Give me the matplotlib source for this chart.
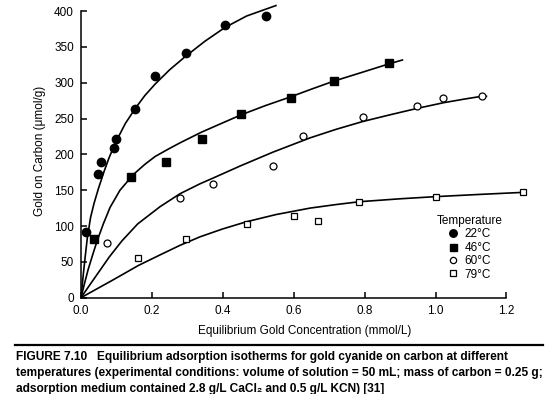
import matplotlib
matplotlib.use('Agg')
import matplotlib.pyplot as plt
from matplotlib.lines import Line2D

plt.rcParams['font.family'] = ['Liberation Sans', 'DejaVu Sans']

# measured points
x22 = [0.014, 0.047, 0.056, 0.094, 0.100, 0.153, 0.209, 0.295, 0.407, 0.521]
y22 = [91, 173, 189, 209, 222, 263, 309, 342, 380, 393]
x46 = [0.037, 0.140, 0.241, 0.340, 0.451, 0.591, 0.713, 0.868]
y46 = [81.5, 169, 189, 221, 256, 278, 303, 327]
x60 = [0.074, 0.280, 0.373, 0.541, 0.627, 0.796, 0.949, 1.021, 1.130]
y60 = [77, 139, 159, 184, 225, 252, 268, 279, 281]
x79 = [0.162, 0.295, 0.468, 0.602, 0.669, 0.785, 1.000, 1.246]
y79 = [56, 82, 103, 114, 107, 134, 141, 147]

# fitted isotherm curves
c22x = [0, 0.006, 0.012, 0.018, 0.027, 0.037, 0.049, 0.065, 0.079, 0.091, 0.1, 0.125,
        0.153, 0.18, 0.209, 0.25, 0.293, 0.35, 0.406, 0.467, 0.552]
c22y = [0, 30, 58, 84, 112, 132, 152, 176, 195, 209, 219, 243,
        264, 282, 298, 318, 336, 358, 377, 393, 408]
c46x = [0, 0.01, 0.02, 0.033, 0.046, 0.063, 0.082, 0.11, 0.148, 0.18, 0.209, 0.245,
        0.279, 0.34, 0.4, 0.451, 0.52, 0.59, 0.65, 0.712, 0.79, 0.867, 0.909]
c46y = [0, 20, 39, 60, 80, 103, 126, 150, 172, 186, 197, 207,
        216, 231, 244, 255, 268, 280, 291, 302, 314, 326, 332]
c60x = [0, 0.025, 0.049, 0.08, 0.115, 0.16, 0.223, 0.279, 0.336, 0.373, 0.45, 0.541,
        0.646, 0.72, 0.796, 0.87, 0.947, 1.022, 1.08, 1.13, 1.146]
c60y = [0, 18, 35, 57, 79, 103, 127, 145, 159, 167, 184, 203,
        223, 235, 246, 255, 264, 272, 277, 281, 281]
c79x = [0, 0.091, 0.162, 0.22, 0.279, 0.336, 0.4, 0.467, 0.55, 0.646, 0.72, 0.787,
        0.9, 1.0, 1.12, 1.248]
c79y = [0, 25, 45, 59, 73, 85, 96, 106, 116, 125, 130, 134,
        138, 141, 144, 147]

labels = ['22\u00b0C', '46\u00b0C', '60\u00b0C', '79\u00b0C']
xticks = [0.0, 0.2, 0.4, 0.6, 0.8, 1.0, 1.2]
yticks = [0, 50, 100, 150, 200, 250, 300, 350, 400]

W, H = 555, 394
fig = plt.figure(figsize=(W / 100, H / 100), dpi=100)
x0, x1 = 81, 81 + 1.26 * 354.5
y0, y1 = 297.7, 297.7 - 410 * 0.7167
ax = fig.add_axes([x0 / W, 1 - y0 / H, (x1 - x0) / W, (y0 - y1) / H])
ax.set_xlim(0, 1.26)
ax.set_ylim(0, 410)

lw = 1.2
for cx, cy in [(c22x, c22y), (c46x, c46y), (c60x, c60y), (c79x, c79y)]:
    ax.plot(cx, cy, color='black', lw=lw, solid_capstyle='butt', solid_joinstyle='round')

h1, = ax.plot(x22, y22, 'o', ms=6, mfc='black', mec='black', ls='none', label=labels[0])
h2, = ax.plot(x46, y46, 's', ms=5.6, mfc='black', mec='black', ls='none', label=labels[1])
h3, = ax.plot(x60, y60, 'o', ms=5, mfc='white', mec='black', mew=0.9, ls='none', label=labels[2])
h4, = ax.plot(x79, y79, 's', ms=5, mfc='white', mec='black', mew=0.9, ls='none', label=labels[3])

for s in ['top', 'right']:
    ax.spines[s].set_visible(False)
ax.spines['bottom'].set_bounds(0, 1.2)
ax.spines['left'].set_bounds(0, 400)
for s in ['bottom', 'left']:
    ax.spines[s].set_linewidth(1.1)
ax.set_xticks(xticks)
ax.set_xticklabels(['%.1f' % v for v in xticks])
ax.set_yticks(yticks)
ax.tick_params(direction='in', length=4.5, width=1.1, labelsize=8.5, pad=5)

ax.set_xlabel('Equilibrium Gold Concentration (mmol/L)', fontsize=8.5, labelpad=6)
ax.set_ylabel('Gold on Carbon (\u03bcmol/g)', fontsize=8.5, labelpad=6)

leg = fig.legend(handles=[h1, h2, h3, h4], title='Temperature', loc='upper center',
                 bbox_to_anchor=(470 / W, 1 - 209 / H), frameon=False, fontsize=8.5,
                 title_fontsize=8.5, borderpad=0, handlelength=0.7, handletextpad=0.6,
                 labelspacing=0.12, markerscale=0.9)

fig.add_artist(Line2D([15 / W, 543 / W], [1 - 345 / H, 1 - 345 / H], color='black', lw=1.6))
cap = ['FIGURE 7.10   Equilibrium adsorption isotherms for gold cyanide on carbon at different',
       'temperatures (experimental conditions: volume of solution = 50 mL; mass of carbon = 0.25 g;',
       'adsorption medium contained 2.8 g/L CaCl\u2082 and 0.5 g/L KCN) [31]']
for i, t in enumerate(cap):
    fig.text(16 / W, 1 - (357 + 16 * i) / H, t, fontsize=8.6, fontweight='bold', va='center', ha='left')

fig.savefig('out.png', dpi=100)
